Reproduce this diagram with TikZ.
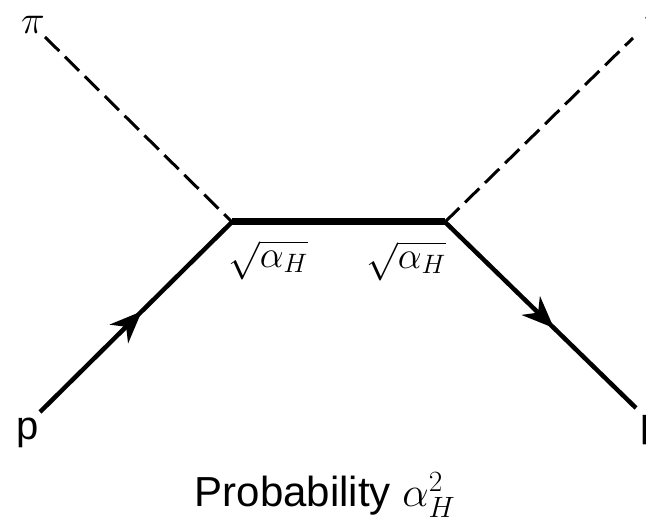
\RequirePackage{fix-cm}
\documentclass[tikz,border=0pt]{standalone}
\usepackage{fontspec}
\setsansfont{Liberation Sans}
\usetikzlibrary{arrows.meta, decorations.markings, positioning}

\begin{document}
\begin{tikzpicture}[x=1pt, y=-1pt,
    fermion/.style={line width=4.5pt},
    meson/.style={line width=3pt, dash pattern=on 20pt off 8pt},
    resonance/.style={line width=7pt},
    midarrow/.style={postaction={decorate}, decoration={markings,
        mark=at position #1 with {\arrow{Stealth[length=32pt,width=26pt,inset=10pt]}}}},
    lbl/.style={inner sep=0pt, font=\sffamily\fontsize{40}{44}\selectfont},
    coup/.style={inner sep=0pt, font=\fontsize{38}{42}\selectfont}]

    % Page frame, text at the right edge is cut off as in the scan
    \useasboundingbox (0,0) rectangle (646,529);
    \clip (0,0) rectangle (646,529);

    % Vertices of the resonance line
    \coordinate (vl) at (232,222);
    \coordinate (vr) at (445,222);

    % Free ends of the external lines
    \coordinate (pin) at (45,37);
    \coordinate (pout) at (633,38);
    \coordinate (pa) at (40,412);
    \coordinate (pb) at (636,408);

    % Particle labels
    \node[lbl] (pilabel) at (33,25) {$\pi$};
    \node[lbl] (pirlabel) at (656,22) {$\pi$};
    \node[lbl] (plabel) at (28,433) {p};
    \node[lbl] (prlabel) at (652,430) {p};

    % Incoming pion and outgoing pion (dashed)
    \draw[meson] (pin) -- (vl);
    \draw[meson] (vr) -- (pout);

    % Incoming and outgoing proton with arrows
    \draw[fermion, midarrow=0.53] (pa) -- (vl);
    \draw[fermion, midarrow=0.57] (vr) -- (pb);

    % Intermediate state
    \draw[resonance] (vl) -- (vr);

    % Couplings at the two vertices
    \node[coup] (gl) at (268,260) {$\sqrt{\alpha_H}$};
    \node[coup] (gr) at (406,261) {$\sqrt{\alpha_H}$};

    % Caption
    \node[inner sep=0pt, font=\sffamily\fontsize{42}{46}\selectfont] (prob) at (325,495) {Probability $\alpha_H^2$};

\end{tikzpicture}
\end{document}
